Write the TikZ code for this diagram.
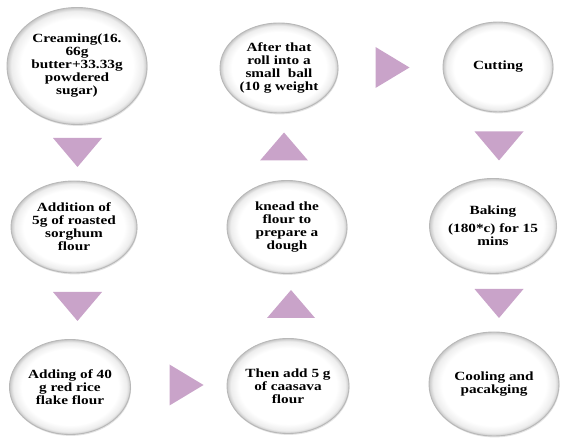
\documentclass[tikz,border=0pt]{standalone}
\usepackage{fontspec}
\newfontfamily\stepfont{Liberation Serif}[FakeStretch=1.22]
\usetikzlibrary{shapes.geometric,shadows}
\definecolor{tricol}{RGB}{201,163,201}
\pgfdeclareradialshading{rimshade}{\pgfpoint{0bp}{0bp}}{%
  color(0bp)=(white); color(20bp)=(white); color(23.5bp)=(black!7);
  color(25bp)=(black!22); color(50bp)=(black!22)}
\tikzset{
  stepnode/.style={ellipse, inner sep=0pt, draw=black!28, line width=0.9pt,
    shading=rimshade, align=center,
    font=\stepfont\fontsize{12.5pt}{13pt}\selectfont\bfseries, text=black,
    drop shadow={shadow xshift=0.6pt, shadow yshift=-1.4pt, opacity=0.22}},
  downtri/.pic={\fill[tricol] (-24.5pt,14.5pt) -- (24.5pt,14.5pt) -- (0pt,-14.5pt) -- cycle;},
  uptri/.pic={\fill[tricol] (-24pt,-14pt) -- (24pt,-14pt) -- (0pt,14pt) -- cycle;},
  righttri/.pic={\fill[tricol] (-17pt,20.5pt) -- (17pt,0pt) -- (-17pt,-20.5pt) -- cycle;}
}
\begin{document}
\begin{tikzpicture}[x=1pt,y=1pt]
\useasboundingbox (0,0) rectangle (562,439);
% steps
\node[stepnode, minimum width=140pt, minimum height=117pt] (c1) at (77,373)
  {Creaming(16.\\66g\\butter+33.33g\\powdered\\sugar)};
\node[stepnode, minimum width=126pt, minimum height=92pt] (c2) at (74,212)
  {Addition of\\5g of roasted\\sorghum\\flour};
\node[stepnode, minimum width=121pt, minimum height=95pt] (c3) at (70,52)
  {Adding of 40\\g red rice\\flake flour};
\node[stepnode, minimum width=122pt, minimum height=95pt] (c4) at (288,53)
  {Then add 5 g\\of caasava\\flour};
\node[stepnode, minimum width=120pt, minimum height=93pt] (c5) at (287,212)
  {knead the\\flour to\\prepare a\\dough};
\node[stepnode, minimum width=118pt, minimum height=90pt] (c6) at (279,371)
  {After that\\roll into a\\small\ \ ball\\(10 g weight};
\node[stepnode, minimum width=110pt, minimum height=90pt] (c7) at (498,372)
  {Cutting};
\node[stepnode, minimum width=126pt, minimum height=95pt] (c8) at (493,213)
  {Baking\\[5pt](180*c) for 15\\mins};
\node[stepnode, minimum width=130pt, minimum height=104pt] (c9) at (494,55)
  {Cooling and\\pacakging};
% connectors (triangles)
\coordinate (t1) at (77.5,286.5);
\coordinate (t2) at (77.5,132.5);
\coordinate (t3) at (186.5,54);
\coordinate (t4) at (291,135);
\coordinate (t5) at (284,292.5);
\coordinate (t6) at (392.5,371.5);
\coordinate (t7) at (499,293);
\coordinate (t8) at (499,135.5);
\pic at (t1) {downtri};
\pic at (t2) {downtri};
\pic at (t3) {righttri};
\pic at (t4) {uptri};
\pic at (t5) {uptri};
\pic at (t6) {righttri};
\pic at (t7) {downtri};
\pic at (t8) {downtri};
\end{tikzpicture}
\end{document}
